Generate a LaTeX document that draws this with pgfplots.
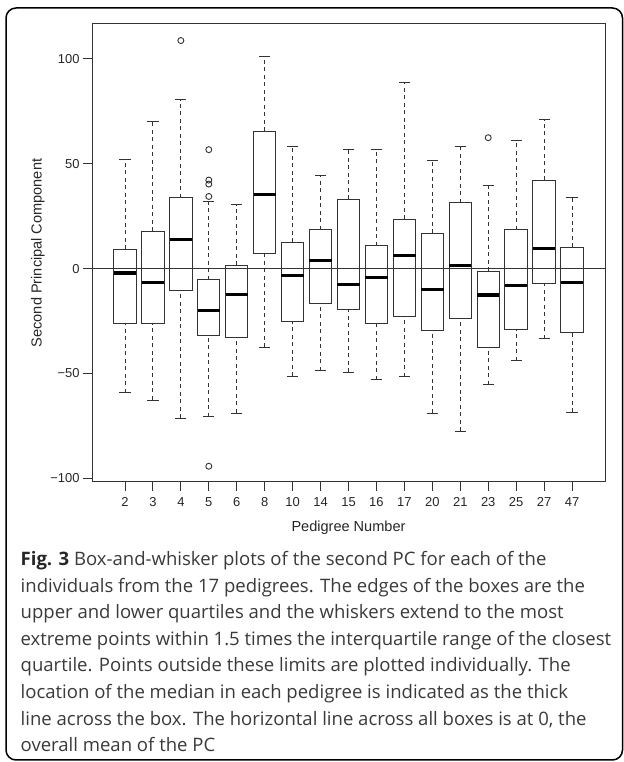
\documentclass[border=0pt]{standalone}
\usepackage{fontspec}
\setmainfont{Liberation Sans}
\newfontfamily\capfont{Open Sans}
\usepackage{pgfplots}
\pgfplotsset{compat=1.18}
\usepgfplotslibrary{statistics}
\definecolor{ln}{HTML}{333333}
\definecolor{captxt}{HTML}{3A3A3A}

\pgfplotsset{
  boxplot/draw direction=y,
  boxplot/box extend=0.8,
  boxplot/whisker extend=0.4,
  boxplot/every box/.style={draw=ln, line width=1bp},
  boxplot/every median/.style={draw=black, line width=3.2bp},
  boxplot/draw/lower whisker/.code={%
    \draw[ln, line width=0.9bp, dash pattern=on 4bp off 3.5bp]
      (boxplot box cs:\pgfplotsboxplotvalue{lower whisker},0.5) --
      (boxplot box cs:\pgfplotsboxplotvalue{lower quartile},0.5);
    \draw[ln, line width=0.9bp]
      (boxplot whisker cs:\pgfplotsboxplotvalue{lower whisker},0) --
      (boxplot whisker cs:\pgfplotsboxplotvalue{lower whisker},1);
  },
  boxplot/draw/upper whisker/.code={%
    \draw[ln, line width=0.9bp, dash pattern=on 4bp off 3.5bp]
      (boxplot box cs:\pgfplotsboxplotvalue{upper quartile},0.5) --
      (boxplot box cs:\pgfplotsboxplotvalue{upper whisker},0.5);
    \draw[ln, line width=0.9bp]
      (boxplot whisker cs:\pgfplotsboxplotvalue{upper whisker},0) --
      (boxplot whisker cs:\pgfplotsboxplotvalue{upper whisker},1);
  },
  bx/.style={draw=ln, mark=o, mark size=3bp, mark options={ln, line width=0.9bp, solid}},
}

\begin{document}
\begin{tikzpicture}[x=1bp,y=1bp]
\useasboundingbox (0,0) rectangle (624,762);
\draw[line width=1.5bp, rounded corners=10bp] (6,2) rectangle (622.5,754);
\begin{axis}[
  at={(92bp,280bp)}, anchor=south west,
  width=513bp, height=458bp, scale only axis,
  xmin=-0.18, xmax=18.18, ymin=-101.7, ymax=116.6,
  axis line style={ln, line width=1bp},
  xtick={1,...,17},
  xticklabels={2,3,4,5,6,8,10,14,15,16,17,20,21,23,25,27,47},
  ytick={-100,-50,0,50,100},
  yticklabels={−100,−50,0,50,100},
  tick pos=left,
  tick align=outside, major tick length=9bp,
  tick style={ln, line width=0.9bp},
  ticklabel style={font=\fontsize{13}{15}\selectfont, text=black!85},
  xticklabel style={yshift=-3bp},
  xlabel={Pedigree Number},
  ylabel={Second Principal Component},
  label style={font=\fontsize{14.6}{17}\selectfont, text=black!85},
  xlabel style={at={(axis description cs:0.5,0)}, anchor=base, yshift=-50bp},
  ylabel style={at={(axis description cs:-0.1053,0.5)}, anchor=center},
  clip=false,
]
\addplot[ln, line width=0.9bp, forget plot] coordinates {(-0.18,0) (18.18,0)};

\addplot[bx, boxplot prepared={draw position=1, lower whisker=-59.2, lower quartile=-26.0, median=-2.1, upper quartile=9.2, upper whisker=52.2}] coordinates {};
\addplot[bx, boxplot prepared={draw position=2, lower whisker=-62.6, lower quartile=-26.0, median=-6.6, upper quartile=17.9, upper whisker=70.0}] coordinates {};
\addplot[bx, boxplot prepared={draw position=3, lower whisker=-71.3, lower quartile=-10.4, median=13.9, upper quartile=33.8, upper whisker=80.4}] coordinates {(3,108.7)};
\addplot[bx, boxplot prepared={draw position=4, lower whisker=-70.5, lower quartile=-32.0, median=-19.8, upper quartile=-5.3, upper whisker=31.9}] coordinates {(4,56.7) (4,42.2) (4,40.3) (4,34.4) (4,-94.2)};
\addplot[bx, boxplot prepared={draw position=5, lower whisker=-68.8, lower quartile=-32.8, median=-12.5, upper quartile=1.7, upper whisker=30.4}] coordinates {};
\addplot[bx, boxplot prepared={draw position=6, lower whisker=-37.5, lower quartile=7.2, median=35.5, upper quartile=65.5, upper whisker=100.9}] coordinates {};
\addplot[bx, boxplot prepared={draw position=7, lower whisker=-51.3, lower quartile=-25.0, median=-3.4, upper quartile=12.5, upper whisker=58.3}] coordinates {};
\addplot[bx, boxplot prepared={draw position=8, lower whisker=-48.6, lower quartile=-16.6, median=3.9, upper quartile=18.5, upper whisker=44.3}] coordinates {};
\addplot[bx, boxplot prepared={draw position=9, lower whisker=-49.4, lower quartile=-19.6, median=-7.5, upper quartile=33.0, upper whisker=56.7}] coordinates {};
\addplot[bx, boxplot prepared={draw position=10, lower whisker=-53.0, lower quartile=-26.2, median=-4.1, upper quartile=10.9, upper whisker=57.0}] coordinates {};
\addplot[bx, boxplot prepared={draw position=11, lower whisker=-51.6, lower quartile=-23.0, median=6.1, upper quartile=23.6, upper whisker=88.7}] coordinates {};
\addplot[bx, boxplot prepared={draw position=12, lower whisker=-68.8, lower quartile=-29.5, median=-9.9, upper quartile=16.8, upper whisker=51.6}] coordinates {};
\addplot[bx, boxplot prepared={draw position=13, lower whisker=-77.5, lower quartile=-23.6, median=1.3, upper quartile=31.4, upper whisker=58.1}] coordinates {};
\addplot[bx, boxplot prepared={draw position=14, lower whisker=-55.4, lower quartile=-37.5, median=-12.6, upper quartile=-1.3, upper whisker=39.5}] coordinates {(14,62.4)};
\addplot[bx, boxplot prepared={draw position=15, lower whisker=-44.0, lower quartile=-28.9, median=-8.1, upper quartile=18.5, upper whisker=61.2}] coordinates {};
\addplot[bx, boxplot prepared={draw position=16, lower whisker=-33.5, lower quartile=-7.2, median=9.5, upper quartile=42.1, upper whisker=71.0}] coordinates {};
\addplot[bx, boxplot prepared={draw position=17, lower whisker=-68.5, lower quartile=-30.4, median=-6.6, upper quartile=10.1, upper whisker=34.1}] coordinates {};
\end{axis}

\begin{scope}[every node/.style={anchor=base west, inner sep=0pt, text=captxt, font=\capfont\fontsize{18.6}{22}\selectfont}]
\node at (20.5,196.5) {\textbf{\color{black!85}Fig. 3} Box-and-whisker plots of the second PC for each of the};
\node at (20.5,169.9) {individuals from the 17 pedigrees. The edges of the boxes are the};
\node at (20.5,143.3) {upper and lower quartiles and the whiskers extend to the most};
\node at (20.5,116.7) {extreme points within 1.5 times the interquartile range of the closest};
\node at (20.5,90.1) {quartile. Points outside these limits are plotted individually. The};
\node at (20.5,63.5) {location of the median in each pedigree is indicated as the thick};
\node at (20.5,36.9) {line across the box. The horizontal line across all boxes is at 0, the};
\node at (20.5,10.3) {overall mean of the PC};
\end{scope}
\end{tikzpicture}
\end{document}
